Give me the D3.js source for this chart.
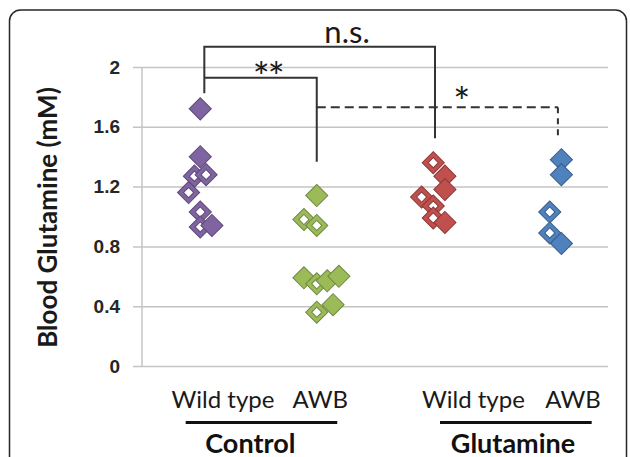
<!DOCTYPE html>
<html>
<head>
<meta charset="utf-8">
<script src="https://cdn.jsdelivr.net/npm/d3@7"></script>
<style>
  body { margin: 0; background: #fff; }
  svg { display: block; font-family: Lato, "Open Sans", sans-serif; }
</style>
</head>
<body>
<div id="chart"></div>
<script>
// values (x = group position with small jitter, filled = solid marker)
const wtControl = {
    color: '#8064a2',
    x: [0.5, 0.5, 0.45, 0.55, 0.4, 0.5, 0.5, 0.6],
    y: [1.72, 1.40, 1.27, 1.28, 1.16, 1.03, 0.93, 0.94],
    filled: [1, 1, 0, 0, 0, 0, 0, 1]
};
const awbControl = {
    color: '#9bbb59',
    x: [1.5, 1.39, 1.5, 1.39, 1.5, 1.59, 1.69, 1.64, 1.5],
    y: [1.14, 0.98, 0.94, 0.59, 0.55, 0.57, 0.60, 0.41, 0.36],
    filled: [1, 0, 0, 1, 0, 1, 1, 1, 0]
};
const wtGlutamine = {
    color: '#c0504d',
    x: [2.5, 2.6, 2.6, 2.4, 2.5, 2.5, 2.6],
    y: [1.36, 1.27, 1.18, 1.13, 1.07, 0.99, 0.96],
    filled: [0, 1, 1, 0, 0, 0, 1]
};
const awbGlutamine = {
    color: '#4f81bd',
    x: [3.6, 3.6, 3.5, 3.5, 3.6],
    y: [1.38, 1.28, 1.03, 0.89, 0.82],
    filled: [1, 1, 0, 0, 1]
};
const groups = [wtControl, awbControl, wtGlutamine, awbGlutamine];

const yTicks = [0, 0.4, 0.8, 1.2, 1.6, 2];
const categories = ['Wild type', 'AWB', 'Wild type', 'AWB'];
const treatments = ['Control', 'Glutamine'];
const yTitle = 'Blood Glutamine (mM)';

// significance brackets, in data units
const nsBracket = [[0.535, 1.824], [0.535, 2.136], [2.515, 2.136], [2.515, 1.523]];
const twoStarBracket = [[0.535, 1.928], [1.5, 1.928], [1.5, 1.367]];
const starBracket = [[1.5, 1.73], [3.57, 1.73]];
const starDrop = [[3.57, 1.73], [3.57, 1.51]];
const sigLabels = [
    { text: 'n.s.', x: 1.76, y: 2.16 },
    { text: '**', x: 1.08, y: 1.83 },
    { text: '*', x: 2.745, y: 1.665 }
];

// layout
const W = 630, H = 457;
const plot = { left: 142, right: 608, top: 67, bottom: 366 };
const catLabelX = [0.695, 1.53, 2.845, 3.7];
const treatLabelX = [0.93, 3.185];
const treatLine = [[0.375, 1.676], [2.558, 3.86]];

const x = d3.scaleLinear().domain([0, 4]).range([plot.left, plot.right]);
const y = d3.scaleLinear().domain([0, 2]).range([plot.bottom, plot.top]);

const svg = d3.select('#chart')
    .append('svg')
    .attr('width', W)
    .attr('height', H);

// frame
svg.append('rect')
    .attr('x', 9.5)
    .attr('y', 10)
    .attr('width', 617)
    .attr('height', 520)
    .attr('rx', 11)
    .attr('fill', '#fff')
    .attr('stroke', '#262626')
    .attr('stroke-width', 1.5);

// gridlines + tick labels (axis anchored at right edge so lines stick out left of the y axis)
const stub = 9;
const yAxis = d3.axisLeft(y)
    .tickValues(yTicks)
    .tickFormat(d => String(d))
    .tickSize(plot.right - plot.left + stub)
    .tickPadding(13);

const grid = svg.append('g')
    .attr('transform', 'translate(' + plot.right + ',0)')
    .call(yAxis);
grid.select('.domain').remove();
grid.selectAll('.tick line')
    .attr('stroke', '#c4c4c4')
    .attr('stroke-width', 1.5);
grid.selectAll('.tick text')
    .attr('fill', '#262626')
    .style('font-size', '19px')
    .style('font-weight', 'bold');

svg.append('line')
    .attr('x1', plot.left).attr('x2', plot.left)
    .attr('y1', plot.top).attr('y2', plot.bottom)
    .attr('stroke', '#c4c4c4')
    .attr('stroke-width', 1.5);

// y title
svg.append('text')
    .attr('transform', 'translate(57,' + ((plot.top + plot.bottom) / 2 + 1) + ') rotate(-90)')
    .attr('text-anchor', 'middle')
    .attr('fill', '#1a1a1a')
    .style('font-size', '26px')
    .style('font-weight', 'bold')
    .text(yTitle);

// brackets
const line = d3.line()
    .x(d => x(d[0]))
    .y(d => y(d[1]));

const brackets = svg.append('g')
    .attr('fill', 'none')
    .attr('stroke', '#333')
    .attr('stroke-width', 2);

brackets.append('path').attr('d', line(nsBracket));
brackets.append('path').attr('d', line(twoStarBracket));
brackets.append('path').attr('d', line(starBracket))
    .attr('stroke-dasharray', '9,5');
brackets.append('path').attr('d', line(starDrop))
    .attr('stroke-dasharray', '6,5');

svg.selectAll('text.sig')
    .data(sigLabels)
    .enter()
    .append('text')
    .attr('class', 'sig')
    .attr('x', d => x(d.x))
    .attr('y', d => y(d.y))
    .attr('text-anchor', 'middle')
    .attr('fill', '#1a1a1a')
    .style('font-size', d => d.text === 'n.s.' ? '31px' : '40px')
    .style('letter-spacing', d => d.text === '**' ? '-2px' : null)
    .text(d => d.text);

// markers
const diamond = d3.symbol().type(d3.symbolSquare);
const outer = diamond.size(245)();
const inner = diamond.size(52)();

groups.forEach(g => {
    const pts = g.y.map((v, i) => ({ x: g.x[i], y: v, filled: g.filled[i] }));
    const edge = d3.color(g.color).darker(0.9).formatHex();
    const m = svg.append('g')
        .selectAll('g')
        .data(pts)
        .enter()
        .append('g')
        .attr('transform', d => 'translate(' + x(d.x) + ',' + y(d.y) + ') rotate(45)');
    m.append('path')
        .attr('d', outer)
        .attr('fill', g.color)
        .attr('stroke', edge)
        .attr('stroke-width', 1);
    m.filter(d => !d.filled)
        .append('path')
        .attr('d', inner)
        .attr('fill', '#fff')
        .attr('stroke', edge)
        .attr('stroke-width', 1);
});

// category labels
svg.selectAll('text.cat')
    .data(categories)
    .enter()
    .append('text')
    .attr('class', 'cat')
    .attr('x', (d, i) => x(catLabelX[i]))
    .attr('y', 408)
    .attr('text-anchor', 'middle')
    .attr('fill', '#1a1a1a')
    .style('font-size', '24px')
    .text(d => d);

svg.selectAll('line.treat')
    .data(treatLine)
    .enter()
    .append('line')
    .attr('class', 'treat')
    .attr('x1', d => x(d[0]))
    .attr('x2', d => x(d[1]))
    .attr('y1', 422.5)
    .attr('y2', 422.5)
    .attr('stroke', '#111')
    .attr('stroke-width', 3);

svg.selectAll('text.treat')
    .data(treatments)
    .enter()
    .append('text')
    .attr('class', 'treat')
    .attr('x', (d, i) => x(treatLabelX[i]))
    .attr('y', 453)
    .attr('text-anchor', 'middle')
    .attr('fill', '#111')
    .style('font-size', '27px')
    .style('font-weight', 'bold')
    .text(d => d);
</script>
</body>
</html>
